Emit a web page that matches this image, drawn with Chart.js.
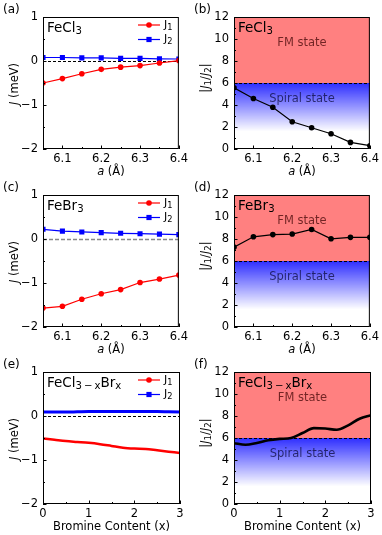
<!DOCTYPE html>
<html>
<head>
<meta charset="utf-8">
<script src="https://cdn.jsdelivr.net/npm/chart.js@4.4.1/dist/chart.umd.min.js"></script>
<style>
  body { margin: 0; background: #fff; width: 382px; height: 535px; position: relative; overflow: hidden; }
  canvas { position: absolute; }
</style>
</head>
<body>
<canvas id="pa" width="191" height="178" style="left:0;top:0"></canvas>
<canvas id="pb" width="191" height="178" style="left:191px;top:0"></canvas>
<canvas id="pc" width="191" height="178" style="left:0;top:178px"></canvas>
<canvas id="pd" width="191" height="178" style="left:191px;top:178px"></canvas>
<canvas id="pe" width="191" height="180" style="left:0;top:355px"></canvas>
<canvas id="pf" width="191" height="180" style="left:191px;top:355px"></canvas>
<script>
// --- data ---
const latticeA = [6.05, 6.10, 6.15, 6.20, 6.25, 6.30, 6.35, 6.40];
const fecl3J1 = [-0.50, -0.40, -0.29, -0.19, -0.14, -0.105, -0.045, 0.01];
const fecl3J2 = [0.08, 0.08, 0.07, 0.07, 0.06, 0.06, 0.05, 0.045];
const fecl3Ratio = [5.56, 4.59, 3.80, 2.48, 1.93, 1.39, 0.60, 0.30];
const febr3J1 = [-1.57, -1.53, -1.37, -1.245, -1.15, -0.99, -0.91, -0.82];
const febr3J2 = [0.22, 0.18, 0.16, 0.145, 0.13, 0.12, 0.11, 0.10];
const febr3Ratio = [7.26, 8.20, 8.40, 8.45, 8.87, 8.02, 8.15, 8.15];

const bromineX = [0, 0.25, 0.5, 0.75, 1.0, 1.25, 1.5, 1.75, 2.0, 2.25, 2.5, 2.75, 3.0];
const mixJ1 = [-0.51, -0.54, -0.57, -0.59, -0.61, -0.64, -0.68, -0.72, -0.74, -0.75, -0.78, -0.81, -0.84];
const mixJ2 = [0.09, 0.09, 0.09, 0.095, 0.10, 0.10, 0.10, 0.10, 0.10, 0.10, 0.10, 0.095, 0.09];
const mixRatio = [5.53, 5.38, 5.55, 5.80, 5.92, 6.00, 6.45, 6.90, 6.86, 6.75, 7.15, 7.75, 8.07];

const aTicks = [6.1, 6.2, 6.3, 6.4];
const aMinorTicks = [6.15, 6.25, 6.35];
const brTicks = [0, 1, 2, 3];
const brMinorTicks = [0.5, 1.5, 2.5];
const jTicks = [-2, -1, 0, 1];
const jMinorTicks = [-1.5, -0.5, 0.5];
const ratioTicks = [0, 2, 4, 6, 8, 10, 12];
const ratioMinorTicks = [1, 3, 5, 7, 9, 11];

const FONT = "'DejaVu Sans', sans-serif";
const RED = '#ff0000';
const BLUE = '#0000ff';
const TXT = 11.5;

function fmtTick(v) {
    const s = Number.isInteger(v) ? String(v) : v.toFixed(1);
    return s.replace('-', '\u2212');
}

function pts(xs, ys) {
    return xs.map((x, i) => ({ x: x, y: ys[i] }));
}

// draw text made of pieces: normal, subscript, italic
function drawRich(ctx, parts, x, y, size, align) {
    const pieces = parts.map(p => {
        const fs = p.sub ? size * 0.75 : size;
        const font = (p.italic ? 'italic ' : '') + fs + 'px ' + FONT;
        ctx.font = font;
        return { t: p.t, font: font, w: ctx.measureText(p.t).width, dy: p.sub ? size * 0.25 : 0 };
    });
    const total = pieces.reduce((s, p) => s + p.w, 0);
    let cx = align === 'center' ? x - total / 2 : x;
    ctx.textAlign = 'left';
    ctx.textBaseline = 'middle';
    pieces.forEach(p => {
        ctx.font = p.font;
        ctx.fillText(p.t, cx, y + p.dy);
        cx += p.w;
    });
}

function drawMarker(ctx, shape, x, y, color) {
    ctx.fillStyle = color;
    ctx.beginPath();
    if (shape === 'rect') ctx.rect(x - 2.6, y - 2.6, 5.2, 5.2);
    else ctx.arc(x, y, 2.8, 0, Math.PI * 2);
    ctx.fill();
}

function panelPlugin(cfg) {
    return {
        id: 'panel_' + cfg.tag,
        beforeDatasetsDraw(chart) {
            const ctx = chart.ctx, a = chart.chartArea, ys = chart.scales.y;
            ctx.save();
            if (cfg.phase) {
                const yb = ys.getPixelForValue(6);
                ctx.fillStyle = '#ff8080';
                ctx.fillRect(a.left, a.top, a.right - a.left, yb - a.top);
                const yf = ys.getPixelForValue(1.6);
                const g = ctx.createLinearGradient(0, yb, 0, yf);
                g.addColorStop(0, 'rgba(0,0,255,0.82)');
                g.addColorStop(1, 'rgba(0,0,255,0)');
                ctx.fillStyle = g;
                ctx.fillRect(a.left, yb, a.right - a.left, yf - yb);
            }
            const yd = Math.round(ys.getPixelForValue(cfg.dashAt)) + 0.5;
            ctx.strokeStyle = cfg.dashColor || '#000';
            ctx.lineWidth = cfg.dashWidth || 1;
            ctx.setLineDash(cfg.dashPattern || [3, 2]);
            ctx.beginPath();
            ctx.moveTo(a.left, yd);
            ctx.lineTo(a.right, yd);
            ctx.stroke();
            ctx.restore();
        },
        afterDraw(chart) {
            const ctx = chart.ctx, a = chart.chartArea;
            const xs = chart.scales.x, ys = chart.scales.y;
            ctx.save();
            // frame
            ctx.strokeStyle = '#000';
            ctx.lineWidth = 1;
            ctx.setLineDash([]);
            ctx.strokeRect(a.left + 0.5, a.top + 0.5, a.right - a.left - 1, a.bottom - a.top - 1);
            // inward ticks
            ctx.beginPath();
            cfg.xMajor.forEach(v => { const p = Math.round(xs.getPixelForValue(v)) + 0.5; ctx.moveTo(p, a.bottom); ctx.lineTo(p, a.bottom - 3.5); });
            cfg.xMinor.forEach(v => { const p = Math.round(xs.getPixelForValue(v)) + 0.5; ctx.moveTo(p, a.bottom); ctx.lineTo(p, a.bottom - 2); });
            cfg.yMajor.forEach(v => { const p = Math.round(ys.getPixelForValue(v)) + 0.5; ctx.moveTo(a.left, p); ctx.lineTo(a.left + 3.5, p); });
            cfg.yMinor.forEach(v => { const p = Math.round(ys.getPixelForValue(v)) + 0.5; ctx.moveTo(a.left, p); ctx.lineTo(a.left + 2, p); });
            ctx.stroke();

            ctx.fillStyle = '#000';
            // panel letter
            ctx.font = '12px ' + FONT;
            ctx.textAlign = 'left';
            ctx.textBaseline = 'middle';
            ctx.fillText(cfg.letter, 3, 10);
            // compound name
            drawRich(ctx, cfg.compound, a.left + 4, a.top + 11, 13.5, 'left');
            // phase labels
            if (cfg.phase) {
                ctx.font = TXT + 'px ' + FONT;
                ctx.textAlign = 'center';
                ctx.textBaseline = 'middle';
                const cx = (a.left + a.right) / 2;
                ctx.fillStyle = 'rgba(60,0,0,0.72)';
                ctx.fillText('FM state', cx, ys.getPixelForValue(9.65));
                ctx.fillStyle = 'rgba(0,0,40,0.68)';
                ctx.fillText('Spiral state', cx, ys.getPixelForValue(4.55));
                ctx.fillStyle = '#000';
            }
            // legend
            if (cfg.legend) {
                cfg.legend.forEach((it, i) => {
                    const ly = a.top + 8 + i * 14.5;
                    ctx.strokeStyle = it.color;
                    ctx.lineWidth = 1.2;
                    ctx.beginPath();
                    ctx.moveTo(a.left + 95, ly);
                    ctx.lineTo(a.left + 117, ly);
                    ctx.stroke();
                    drawMarker(ctx, it.shape, a.left + 106, ly, it.color);
                    ctx.fillStyle = '#000';
                    drawRich(ctx, [{ t: 'J' }, { t: it.sub, sub: true }], a.left + 121, ly, 11, 'left');
                });
            }
            // axis titles
            drawRich(ctx, cfg.xTitle, (a.left + a.right) / 2, a.bottom + 23, TXT, 'center');
            ctx.save();
            ctx.translate(15, a.top + cfg.yTitleOffset);
            ctx.rotate(-Math.PI / 2);
            drawRich(ctx, cfg.yTitle, 0, 0, TXT, 'center');
            ctx.restore();
            ctx.restore();
        }
    };
}

function makeScales(xMin, xMax, xMajor, yMin, yMax, yMajor, xAxisH) {
    const tickFont = { family: FONT, size: TXT };
    return {
        x: {
            type: 'linear', min: xMin, max: xMax,
            grid: { display: false, drawTicks: false },
            border: { display: false },
            ticks: { padding: 3, color: '#000', font: tickFont, autoSkip: false, maxRotation: 0, callback: v => fmtTick(v) },
            afterBuildTicks: s => { s.ticks = xMajor.map(v => ({ value: v })); },
            afterFit: s => { s.height = xAxisH; }
        },
        y: {
            type: 'linear', min: yMin, max: yMax,
            grid: { display: false, drawTicks: false },
            border: { display: false },
            ticks: { padding: 5, color: '#000', font: tickFont, autoSkip: false, callback: v => fmtTick(v) },
            afterBuildTicks: s => { s.ticks = yMajor.map(v => ({ value: v })); },
            afterFit: s => { s.width = 43; }
        }
    };
}

function baseOptions(scales) {
    return {
        responsive: false,
        animation: false,
        events: [],
        layout: { padding: { top: 17, right: 11, left: 0, bottom: 0 }, autoPadding: false },
        plugins: { legend: { display: false }, tooltip: { enabled: false } },
        scales: scales
    };
}

function jDatasets(xs, j1, j2, smooth) {
    if (smooth) {
        return [
            { data: pts(xs, j1), borderColor: RED, borderWidth: 2.5, pointRadius: 0, cubicInterpolationMode: 'monotone' },
            { data: pts(xs, j2), borderColor: BLUE, borderWidth: 3, pointRadius: 0, cubicInterpolationMode: 'monotone' }
        ];
    }
    return [
        { data: pts(xs, j1), borderColor: RED, backgroundColor: RED, borderWidth: 1.2, pointStyle: 'circle', pointRadius: 2.8, pointBorderWidth: 0 },
        { data: pts(xs, j2), borderColor: BLUE, backgroundColor: BLUE, borderWidth: 1.2, pointStyle: 'rect', pointRadius: 3.6, pointBorderWidth: 0 }
    ];
}

const jLegend = [{ color: RED, shape: 'circle', sub: '1' }, { color: BLUE, shape: 'rect', sub: '2' }];
const jTitle = [{ t: 'J', italic: true }, { t: ' (meV)' }];
const ratioTitle = [{ t: '|' }, { t: 'J', italic: true }, { t: '1', sub: true }, { t: '/' }, { t: 'J', italic: true }, { t: '2', sub: true }, { t: '|' }];
const aTitle = [{ t: 'a', italic: true }, { t: ' (\u00c5)' }];
const brTitle = [{ t: 'Bromine Content (x)' }];
const fecl3Name = [{ t: 'FeCl' }, { t: '3', sub: true }];
const febr3Name = [{ t: 'FeBr' }, { t: '3', sub: true }];
const mixName = [{ t: 'FeCl' }, { t: '3\u2009\u2212\u2009x', sub: true }, { t: 'Br' }, { t: 'x', sub: true }];

function jPanel(id, letter, xs, j1, j2, name, smooth, dashStyle, xAxisH) {
    const isBr = xs === bromineX;
    new Chart(document.getElementById(id), {
        type: 'line',
        data: { datasets: jDatasets(xs, j1, j2, smooth) },
        options: baseOptions(makeScales(isBr ? 0 : 6.05, isBr ? 3 : 6.4, isBr ? brTicks : aTicks, -2, 1, jTicks, xAxisH)),
        plugins: [panelPlugin(Object.assign({
            tag: id, letter: letter, compound: name, legend: jLegend, dashAt: 0,
            xMajor: isBr ? brTicks : aTicks, xMinor: isBr ? brMinorTicks : aMinorTicks,
            yMajor: jTicks, yMinor: jMinorTicks,
            xTitle: isBr ? brTitle : aTitle, yTitle: jTitle, yTitleOffset: 67
        }, dashStyle))]
    });
}

function ratioPanel(id, letter, xs, ratio, name, smooth, xAxisH) {
    const isBr = xs === bromineX;
    const ds = smooth
        ? { data: pts(xs, ratio), borderColor: '#000', borderWidth: 2.6, pointRadius: 0, cubicInterpolationMode: 'monotone' }
        : { data: pts(xs, ratio), borderColor: '#000', backgroundColor: '#000', borderWidth: 1.2, pointRadius: 2.8, pointBorderWidth: 0 };
    new Chart(document.getElementById(id), {
        type: 'line',
        data: { datasets: [ds] },
        options: baseOptions(makeScales(isBr ? 0 : 6.05, isBr ? 3 : 6.4, isBr ? brTicks : aTicks, 0, 12, ratioTicks, xAxisH)),
        plugins: [panelPlugin({
            tag: id, letter: letter, compound: name, phase: true, dashAt: 6,
            xMajor: isBr ? brTicks : aTicks, xMinor: isBr ? brMinorTicks : aMinorTicks,
            yMajor: ratioTicks, yMinor: ratioMinorTicks,
            xTitle: isBr ? brTitle : aTitle, yTitle: ratioTitle, yTitleOffset: 61
        })]
    });
}

jPanel('pa', '(a)', latticeA, fecl3J1, fecl3J2, fecl3Name, false, {}, 29);
ratioPanel('pb', '(b)', latticeA, fecl3Ratio, fecl3Name, false, 29);
jPanel('pc', '(c)', latticeA, febr3J1, febr3J2, febr3Name, false, { dashColor: '#888', dashWidth: 1.3, dashPattern: [4, 2] }, 29);
ratioPanel('pd', '(d)', latticeA, febr3Ratio, febr3Name, false, 29);
jPanel('pe', '(e)', bromineX, mixJ1, mixJ2, mixName, true, {}, 31);
ratioPanel('pf', '(f)', bromineX, mixRatio, mixName, true, 31);
</script>
</body>
</html>
